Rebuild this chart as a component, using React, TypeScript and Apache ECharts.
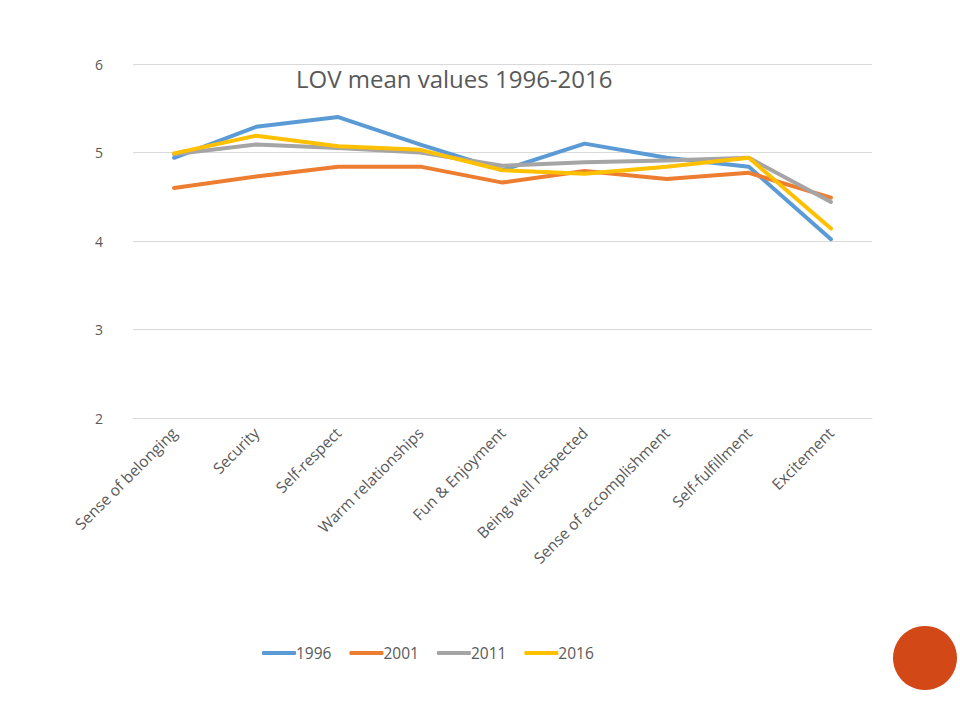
import React, { useEffect, useRef } from "react";
import * as echarts from "echarts";

const categories = [
  "Sense of belonging",
  "Security",
  "Self-respect",
  "Warm relationships",
  "Fun & Enjoyment",
  "Being well respected",
  "Sense of accomplishment",
  "Self-fulfillment",
  "Excitement",
];
const s1996 = [4.94, 5.29, 5.4, 5.09, 4.8, 5.1, 4.94, 4.84, 4.02];
const s2001 = [4.6, 4.73, 4.84, 4.84, 4.66, 4.79, 4.7, 4.77, 4.49];
const s2011 = [4.98, 5.09, 5.05, 5.0, 4.85, 4.89, 4.91, 4.94, 4.44];
const s2016 = [4.99, 5.19, 5.07, 5.03, 4.8, 4.76, 4.84, 4.94, 4.14];
const seriesNames = ["1996", "2001", "2011", "2016"];
const colors = ["#5B9BD5", "#ED7D31", "#A5A5A5", "#FFC000"];

export default function App() {
  const ref = useRef<HTMLDivElement>(null);
  useEffect(() => {
    if (!ref.current) return;
    const chart = echarts.init(ref.current, null, { renderer: "svg" });
    const font = "'Open Sans', 'Liberation Sans', sans-serif";
    const data = [s1996, s2001, s2011, s2016];
    chart.setOption({
      animation: false,
      backgroundColor: "#ffffff",
      title: {
        text: "LOV mean values 1996-2016",
        left: 291,
        top: 61,
        textStyle: { fontFamily: font, fontSize: 24, fontWeight: "normal", color: "#595959" },
      },
      legend: {
        left: 257,
        top: 640,
        itemWidth: 34,
        itemHeight: 4,
        itemGap: 18,
        icon: "roundRect",
        data: seriesNames,
        textStyle: { fontFamily: font, fontSize: 15.5, color: "#595959", padding: [0, 0, 0, -5] },
      },
      grid: { left: 133, right: 88, top: 64, bottom: 298, containLabel: false },
      xAxis: {
        type: "category",
        data: categories,
        boundaryGap: true,
        axisLine: { show: true, lineStyle: { color: "#D9D9D9", width: 1 } },
        axisTick: { show: false },
        axisLabel: {
          rotate: 45,
          interval: 0,
          margin: 12,
          fontFamily: font,
          fontSize: 15.5,
          color: "#595959",
        },
      },
      yAxis: {
        type: "value",
        min: 2,
        max: 6,
        interval: 1,
        axisLine: { show: false },
        axisTick: { show: false },
        splitLine: { lineStyle: { color: "#D9D9D9", width: 1 } },
        axisLabel: { fontFamily: font, fontSize: 14, color: "#595959", margin: 30 },
      },
      series: data.map((d, i) => ({
        name: seriesNames[i],
        type: "line",
        data: d,
        symbol: "none",
        color: colors[i],
        lineStyle: { width: 4, color: colors[i], cap: "round", join: "round" },
      })),
      graphic: [
        {
          type: "circle",
          shape: { cx: 925, cy: 658, r: 32 },
          style: { fill: "#D34817" },
        },
      ],
    });
    return () => chart.dispose();
  }, []);
  return <div ref={ref} style={{ width: 960, height: 716, position: "absolute", left: 0, top: 0 }} />;
}
